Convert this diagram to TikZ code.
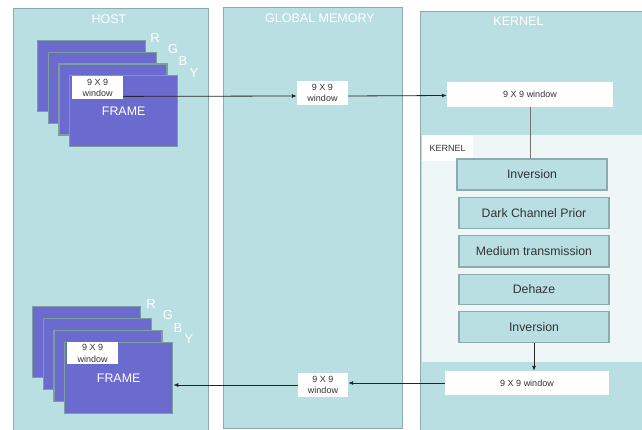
\documentclass[tikz,border=0pt]{standalone}
\usepackage{fontspec}
\setmainfont{Liberation Sans}
\usetikzlibrary{positioning,arrows.meta}

\definecolor{panelfill}{HTML}{B9DFE2}
\definecolor{paneledge}{HTML}{8DAAAC}
\definecolor{framefill}{HTML}{6A6ACF}
\definecolor{frameedge}{HTML}{7E9E9E}
\definecolor{innerfill}{HTML}{EEF6F8}
\definecolor{textgray}{HTML}{333333}

\tikzset{
  panel/.style={draw=paneledge, fill=panelfill, line width=1pt, inner sep=0pt},
  paneltitle/.style={text=white, font=\fontsize{12.5}{14}\selectfont},
  framebox/.style={draw=frameedge, fill=framefill, line width=1.3pt, anchor=north west,
    minimum width=108pt, minimum height=71pt, text=white, font=\fontsize{12.4}{14}\selectfont},
  window/.style={fill=white, inner sep=0pt, text=textgray, align=center,
    font=\fontsize{9}{11.5}\selectfont},
  stepbox/.style={draw=paneledge, fill=panelfill, line width=1.2pt, minimum width=150pt,
    minimum height=31pt, text=textgray, font=\fontsize{12.3}{14}\selectfont},
  channel/.style={text=white, font=\fontsize{13}{14}\selectfont},
  arr/.style={draw=black!85, line width=0.8pt, -{Latex[length=5pt,width=4pt]}},
  plain/.style={draw=black!55, line width=0.9pt}
}

\begin{document}
\begin{tikzpicture}[x=1pt, y=-1pt]

  \clip (0,0) rectangle (642,430);

  % Columnas
  \node[panel, anchor=north west, minimum width=195pt, minimum height=440pt] (host) at (13,8) {};
  \node[panel, anchor=north west, minimum width=179pt, minimum height=421pt] (gmem) at (223,7) {};
  \node[panel, anchor=north west, minimum width=230pt, minimum height=440pt] (kern) at (420,11) {};

  \node[paneltitle, below=3pt of host.north, xshift=-2pt] (hosttitle) {HOST};
  \node[paneltitle, below=3pt of gmem.north, xshift=7pt] (gmemtitle) {GLOBAL MEMORY};
  \node[paneltitle, below=2pt of kern.north, xshift=-17pt] (kerntitle) {KERNEL};

  % Zona interna del kernel
  \fill[innerfill] (422,135) rectangle (650,362);
  \node[fill=white, anchor=north west, minimum width=51pt, minimum height=26pt,
    text=textgray, font=\fontsize{9}{11}\selectfont] (kernlabel) at (422,135) {KERNEL};

  % Frames arriba
  \foreach \i in {0,...,3}
    \node[framebox] (hf\i) at (37+10.7*\i, 40+11.7*\i) {};
  \node[framebox] (hf3) at (69,75) {FRAME};
  \node[window, anchor=north west, minimum width=51pt, minimum height=23pt]
    (hwin1) at ([xshift=3pt, yshift=-1pt]hf3.north west) {9 X 9\\window};

  % Frames abajo
  \foreach \i in {0,...,3}
    \node[framebox] (bf\i) at (32+10.7*\i, 306+12*\i) {};
  \node[framebox] (bf3) at (64,342) {FRAME};
  \node[window, anchor=north west, minimum width=51pt, minimum height=22pt]
    (hwin2) at ([xshift=3pt]bf3.north west) {9 X 9\\window};

  % Canales
  \foreach \c/\x/\y in {R/155/38, G/173/49, B/183/61, Y/194/73,
                        R/151/304, G/168/315, B/178/328, Y/189/339}
    \node[channel] at (\x,\y) {\c};

  % Ventanas
  \node[window, minimum width=51pt, minimum height=24pt] (gwin1) at (322.5,93) {9 X 9\\window};
  \node[window, minimum width=50pt, minimum height=24pt] (gwin2) at (323,385) {9 X 9\\window};
  \node[window, minimum width=166pt, minimum height=25pt] (kwin1) at (530,94.5) {9 X 9 window};
  \node[window, minimum width=164pt, minimum height=24pt] (kwin2) at (527,383) {9 X 9 window};

  % Etapas
  \node[stepbox] (inv1) at (532,174.5) {Inversion};
  \node[stepbox, below=6.5pt of inv1, xshift=2pt] (dcp) {Dark Channel Prior};
  \node[stepbox, below=6pt of dcp] (med) {Medium transmission};
  \node[stepbox, below=6.5pt of med, minimum height=30pt] (deh) {Dehaze};
  \node[stepbox, below=6pt of deh] (inv2) {Inversion};

  % Flechas
  \draw[arr] ([yshift=3pt]hwin1.south east) -- ([yshift=-3pt]gwin1.west);
  \draw[arr] ([yshift=-3pt]gwin1.east) -- ([yshift=-1pt]kwin1.west);
  \draw[plain] (kwin1.south) -- (kwin1.south |- inv1.north);
  \draw[arr] (inv2.south) -- (inv2.south |- kwin2.north);
  \draw[arr] (kwin2.west) -- (kwin2.west -| gwin2.east);
  \draw[arr] (gwin2.west) -- (gwin2.west -| bf3.east);

\end{tikzpicture}
\end{document}
